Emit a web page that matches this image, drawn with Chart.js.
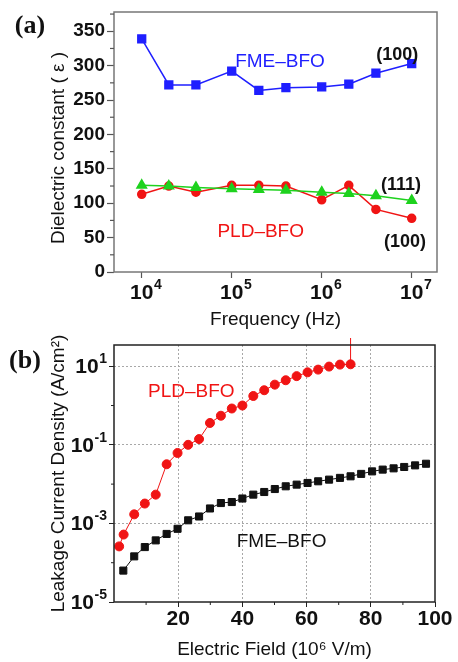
<!DOCTYPE html>
<html>
<head>
<meta charset="utf-8">
<script src="https://cdn.jsdelivr.net/npm/chart.js@4/dist/chart.umd.min.js"></script>
<style>
  body { margin: 0; background: #fff; }
  .panneau { position: absolute; left: 0; width: 458px; }
  #panA { top: 0; height: 330px; }
  #panB { top: 330px; height: 332px; }
</style>
</head>
<body>
<div class="panneau" id="panA"><canvas id="chartA" width="458" height="330"></canvas></div>
<div class="panneau" id="panB"><canvas id="chartB" width="458" height="332"></canvas></div>
<script>
// ---- (a) constante diélectrique en fonction de la fréquence ----
const frequences = [1e4, 2e4, 4e4, 1e5, 2e5, 4e5, 1e6, 2e6, 4e6, 1e7];
const epsFME = [339, 272, 272, 292, 264, 268, 269, 273, 289, 303];
const epsPLD100 = [113, 125, 116, 126, 126, 125, 105, 126, 91, 78];
const epsPLD111 = [126, 125, 123, 121, 120, 119, 116, 114, 111, 104];
const ticksFreq = [1e4, 1e5, 1e6, 1e7];
const expFreq = ["4", "5", "6", "7"];
const ticksEps = [0, 50, 100, 150, 200, 250, 300, 350];
const ticksEpsMineurs = [25, 75, 125, 175, 225, 275, 325, 375];

// ---- (b) densité de courant de fuite en fonction du champ ----
const champPLD = [1.6, 3.0, 6.3, 9.6, 13.0, 16.4, 19.8, 23.1, 26.5, 29.9, 33.3, 36.7, 40.0, 43.4, 46.8, 50.1, 53.5, 56.9, 60.3, 63.6, 67.0, 70.4, 73.7];
const fuitePLD = [2.6e-4, 5.2e-4, 1.7e-3, 3.2e-3, 5.4e-3, 0.032, 0.062, 0.10, 0.14, 0.36, 0.55, 0.84, 1.0, 1.75, 2.45, 3.4, 4.4, 5.6, 7.0, 8.2, 9.8, 11, 11.2];
const champPic = [73.7, 73.7];
const fuitePic = [11.2, 60];
const champFME = [2.9, 6.3, 9.6, 13.0, 16.4, 19.8, 23.1, 26.5, 29.9, 33.3, 36.7, 40.0, 43.4, 46.8, 50.1, 53.5, 56.9, 60.3, 63.6, 67.0, 70.4, 73.7, 77.0, 80.4, 83.7, 87.1, 90.4, 93.8, 97.2];
const fuiteFME = [6.3e-5, 1.45e-4, 2.5e-4, 3.7e-4, 5.4e-4, 7.3e-4, 1.2e-3, 1.5e-3, 2.4e-3, 3.3e-3, 3.5e-3, 4.3e-3, 5.4e-3, 6.3e-3, 7.5e-3, 8.8e-3, 9.7e-3, 0.0107, 0.0118, 0.013, 0.0144, 0.0158, 0.0182, 0.0211, 0.0234, 0.0252, 0.0273, 0.030, 0.033];
const ticksChamp = [20, 40, 60, 80, 100];
const ticksChampMineurs = [10, 30, 50, 70, 90];
const ticksFuite = [1e-5, 1e-3, 1e-1, 1e1];
const expFuite = ["-5", "-3", "-1", "1"];
const ticksFuiteMineurs = [1e-4, 1e-2, 1];

const police = "'Liberation Sans', Arial, sans-serif";
const policeSerif = "'Liberation Serif', 'Times New Roman', serif";

function points(xs, ys) {
    return xs.map((x, i) => ({ x: x, y: ys[i] }));
}

// taille fixe des axes pour caler la zone de tracé
function tailleFixe(w, h) {
    return function (scale) {
        if (w !== null) scale.width = w;
        if (h !== null) scale.height = h;
        scale.paddingLeft = 0; scale.paddingRight = 0;
        scale.paddingTop = 0; scale.paddingBottom = 0;
    };
}

function fixerTicks(valeurs) {
    return function (scale) { scale.ticks = valeurs.map(v => ({ value: v })); };
}

function ecrire(ctx, texte, x, y, font, couleur, align) {
    ctx.font = font;
    ctx.fillStyle = couleur;
    ctx.textAlign = align || "center";
    ctx.textBaseline = "middle";
    ctx.fillText(texte, x, y);
}

// ------ Graphique (a) ------
const notesA = [
    { t: "FME–BFO", x: 3.44e5, y: 305, c: "#1f1fff", f: "19px " + police },
    { t: "(100)", x: 6.9e6, y: 315, c: "#111", f: "bold 18px " + police },
    { t: "(111)", x: 7.6e6, y: 126, c: "#111", f: "bold 18px " + police },
    { t: "PLD–BFO", x: 2.1e5, y: 58, c: "#f01414", f: "19px " + police },
    { t: "(100)", x: 8.4e6, y: 44, c: "#111", f: "bold 18px " + police }
];

const decorA = {
    id: "decorA",
    afterDraw(chart) {
        const ctx = chart.ctx;
        const a = chart.chartArea;
        const sx = chart.scales.x, sy = chart.scales.y;
        ctx.save();
        // cadre
        ctx.strokeStyle = "#777";
        ctx.lineWidth = 1.5;
        ctx.strokeRect(a.left, a.top, a.right - a.left, a.bottom - a.top);
        // petites graduations
        ctx.strokeStyle = "#555";
        ctx.lineWidth = 1.2;
        ticksEpsMineurs.forEach(v => {
            const y = sy.getPixelForValue(v);
            ctx.beginPath(); ctx.moveTo(a.left, y); ctx.lineTo(a.left - 4, y); ctx.stroke();
        });
        // étiquettes 10^n
        ticksFreq.forEach((v, i) => {
            const x = sx.getPixelForValue(v);
            ctx.font = "bold 21px " + police;
            const w = ctx.measureText("10").width;
            ecrire(ctx, "10", x, 293, "bold 21px " + police, "#111", "center");
            ecrire(ctx, expFreq[i], x + w / 2 + 0.5, 285, "bold 14px " + police, "#111", "left");
        });
        // titre de l'axe y, un peu plus bas que le centre
        ctx.save();
        ctx.translate(59, 148);
        ctx.rotate(-Math.PI / 2);
        ecrire(ctx, "Dielectric constant ( ε )", 0, 0, "19px " + police, "#111");
        ctx.restore();
        notesA.forEach(n => {
            ecrire(ctx, n.t, sx.getPixelForValue(n.x), sy.getPixelForValue(n.y), n.f, n.c);
        });
        ecrire(ctx, "(a)", 30, 26, "bold 26px " + policeSerif, "#111");
        ctx.restore();
    }
};

new Chart(document.getElementById("chartA"), {
    type: "line",
    data: {
        datasets: [
            {
                data: points(frequences, epsPLD111),
                borderColor: "#1ed21e", backgroundColor: "#1ed21e",
                borderWidth: 1.5, pointStyle: "triangle", pointRadius: 5.5
            },
            {
                data: points(frequences, epsPLD100),
                borderColor: "#f01414", backgroundColor: "#f01414",
                borderWidth: 1.5, pointStyle: "circle", pointRadius: 4
            },
            {
                data: points(frequences, epsFME),
                borderColor: "#1f1fff", backgroundColor: "#1f1fff",
                borderWidth: 1.5, pointStyle: "rect", pointRadius: 5.5
            }
        ]
    },
    options: {
        responsive: false,
        animation: false,
        layout: { padding: { top: 12, right: 21, left: 0, bottom: 0 } },
        plugins: { legend: { display: false }, tooltip: { enabled: false } },
        scales: {
            x: {
                type: "logarithmic", min: 4920, max: 1.91e7,
                afterBuildTicks: fixerTicks(ticksFreq),
                afterFit: tailleFixe(null, 58),
                ticks: { display: false },
                grid: { drawOnChartArea: false, tickLength: 6, tickColor: "#555", tickWidth: 1.2 },
                border: { display: false },
                title: {
                    display: true, text: "Frequency (Hz)", color: "#111",
                    font: { family: police, size: 19, lineHeight: 1 },
                    padding: { top: 0, bottom: 0.5 }
                }
            },
            y: {
                min: 0, max: 378,
                afterBuildTicks: fixerTicks(ticksEps),
                afterFit: tailleFixe(114, null),
                ticks: {
                    color: "#111", padding: 2, autoSkip: false,
                    font: { family: police, size: 19, weight: "bold", lineHeight: 1 }
                },
                grid: { drawOnChartArea: false, tickLength: 7, tickColor: "#555", tickWidth: 1.2 },
                border: { display: false }
            }
        }
    },
    plugins: [decorA]
});

// ------ Graphique (b) ------
const notesB = [
    { t: "PLD–BFO", x: 24.1, y: 2.2, c: "#f01414" },
    { t: "FME–BFO", x: 52.2, y: 3.5e-4, c: "#111" }
];

const decorB = {
    id: "decorB",
    afterDraw(chart) {
        const ctx = chart.ctx;
        const a = chart.chartArea;
        const sx = chart.scales.x, sy = chart.scales.y;
        ctx.save();
        ctx.strokeStyle = "#222";
        ctx.lineWidth = 1.5;
        ctx.strokeRect(a.left, a.top, a.right - a.left, a.bottom - a.top);
        ctx.lineWidth = 1;
        ticksChampMineurs.forEach(v => {
            const x = sx.getPixelForValue(v);
            ctx.beginPath(); ctx.moveTo(x, a.bottom); ctx.lineTo(x, a.bottom + 3); ctx.stroke();
        });
        ticksFuiteMineurs.forEach(v => {
            const y = sy.getPixelForValue(v);
            ctx.beginPath(); ctx.moveTo(a.left, y); ctx.lineTo(a.left - 3, y); ctx.stroke();
        });
        // étiquettes 10^n
        ticksFuite.forEach((v, i) => {
            const y = sy.getPixelForValue(v);
            ctx.font = "bold 14px " + police;
            const we = ctx.measureText(expFuite[i]).width;
            ecrire(ctx, expFuite[i], 107 - we, y - 7, "bold 14px " + police, "#111", "left");
            ecrire(ctx, "10", 107 - we - 0.5, y + 1, "bold 21px " + police, "#111", "right");
        });
        notesB.forEach(n => {
            ecrire(ctx, n.t, sx.getPixelForValue(n.x), sy.getPixelForValue(n.y), "19px " + police, n.c);
        });
        ecrire(ctx, "(b)", 25, 31, "bold 26px " + policeSerif, "#111");
        ctx.restore();
    }
};

new Chart(document.getElementById("chartB"), {
    type: "line",
    data: {
        datasets: [
            {
                data: points(champPLD, fuitePLD),
                borderColor: "#f01414", backgroundColor: "#f01414",
                borderWidth: 1, pointStyle: "circle", pointRadius: 4.5
            },
            {
                data: points(champPic, fuitePic),
                borderColor: "#f01414", borderWidth: 1, pointRadius: 0,
                clip: { left: 0, top: 7, right: 0, bottom: 0 }
            },
            {
                data: points(champFME, fuiteFME),
                borderColor: "#111", backgroundColor: "#111",
                borderWidth: 1, pointStyle: "rect", pointRadius: 5
            }
        ]
    },
    options: {
        responsive: false,
        animation: false,
        layout: { padding: { top: 15, right: 23, left: 0, bottom: 0 } },
        plugins: { legend: { display: false }, tooltip: { enabled: false } },
        scales: {
            x: {
                type: "linear", min: 0, max: 100,
                afterBuildTicks: fixerTicks(ticksChamp),
                afterFit: tailleFixe(null, 60),
                ticks: {
                    color: "#111", padding: 2, autoSkip: false, maxRotation: 0,
                    font: { family: police, size: 21, weight: "bold", lineHeight: 1 }
                },
                grid: {
                    color: c => (c.tick && c.tick.value === 100) ? "rgba(0,0,0,0)" : "#a8a8a8",
                    tickColor: "#222", tickLength: 5, lineWidth: 1
                },
                border: { display: false, dash: [2, 2] },
                title: {
                    display: true, text: "Electric Field (10⁶ V/m)", color: "#111",
                    font: { family: police, size: 19, lineHeight: 1 },
                    padding: { top: 0, bottom: 2.5 }
                }
            },
            y: {
                type: "logarithmic", min: 1e-5, max: 34.7,
                afterBuildTicks: fixerTicks(ticksFuite),
                afterFit: tailleFixe(114, null),
                ticks: { display: false },
                grid: {
                    color: c => (c.tick && c.tick.value === 1e-5) ? "rgba(0,0,0,0)" : "#a8a8a8",
                    tickColor: "#222", tickLength: 5, lineWidth: 1
                },
                border: { display: false, dash: [2, 2] },
                title: {
                    display: true, text: "Leakage Current Density (A/cm²)", color: "#111",
                    font: { family: police, size: 19, lineHeight: 1 },
                    padding: { top: 49.5, bottom: 0 }
                }
            }
        }
    },
    plugins: [decorB]
});
</script>
</body>
</html>
